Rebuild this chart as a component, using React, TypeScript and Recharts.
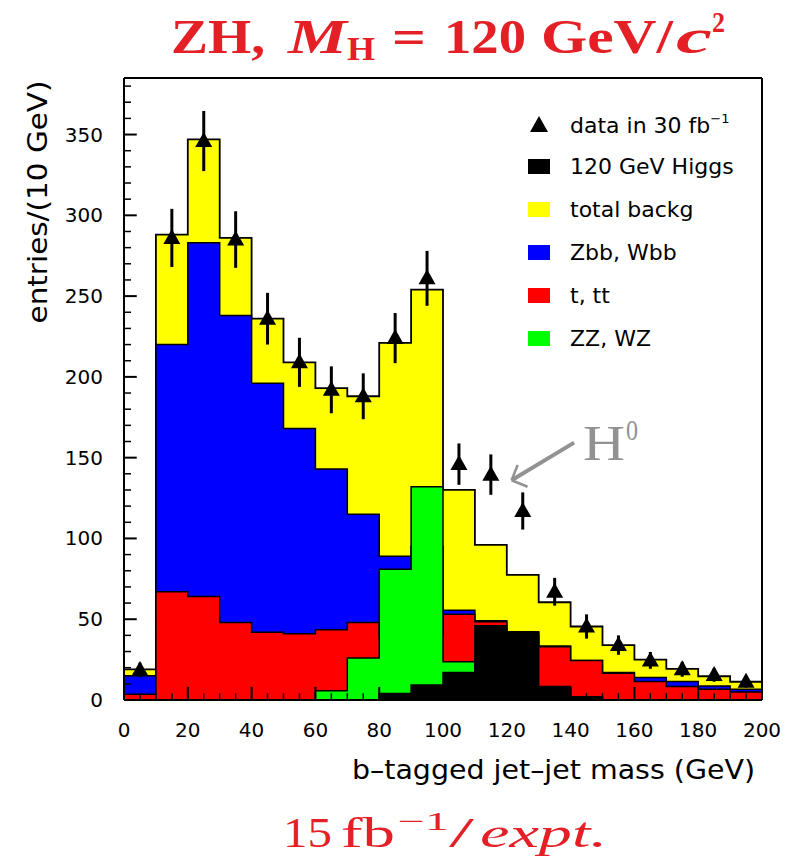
import React from 'react';
import {
  ComposedChart,
  Area,
  Scatter,
  ErrorBar,
  XAxis,
  YAxis,
  ReferenceLine,
  Legend,
  Label,
} from 'recharts';

// ---- data (bins of 10 GeV, lower edges) ----
const binLow = [0, 10, 20, 30, 40, 50, 60, 70, 80, 90, 100, 110, 120, 130, 140, 150, 160, 170, 180, 190];
const binEnd = 200;
const totalBackg = [19, 288, 347, 286, 236, 209, 193, 188, 221, 254, 130, 96, 77.5, 60.5, 45.5, 34, 25, 19.3, 14.7, 11.3];
const zbbWbb = [15, 220, 283, 238, 196, 168, 143, 115, 89, 95, 55.5, 49, 42, 33.5, 24.5, 17, 14, 11.4, 8.7, 6.6];
const tTt = [3.5, 67, 64, 48, 42, 41, 43.5, 48, 40, 40, 53, 48.5, 40, 33, 24.4, 16.5, 11.4, 8.3, 6.6, 5];
const zzWz = [0, 0, 0, 0, 0, 0, 5.8, 26, 81, 132, 23.7, 15, 8, 3, 0, 0, 0, 0, 0, 0];
const higgs120 = [0, 0, 0, 0, 0, 0, 0, 0, 4.1, 9.3, 17, 46, 42.3, 8.3, 2, 0, 0, 0, 0, 0];

const dataMass = [5, 15, 25, 35, 45, 55, 65, 75, 85, 95, 105, 115, 125, 135, 145, 155, 165, 175, 185, 195];
const dataEntries = [18.6, 286, 346, 285, 236, 209, 192, 188, 224, 261, 146, 139.5, 117, 67, 45.5, 34, 24.5, 19, 15.5, 11.3];
const dataErrors = [4.5, 18, 18.6, 17.5, 16, 15.2, 14.5, 14.2, 15.5, 17, 12.8, 12.5, 11.5, 8.6, 7.5, 6, 5.2, 4.6, 4.2, 3.6];

const xTicks = [0, 5, 10, 15, 20, 25, 30, 35, 40, 45, 50, 55, 60, 65, 70, 75, 80, 85, 90, 95, 100,
  105, 110, 115, 120, 125, 130, 135, 140, 145, 150, 155, 160, 165, 170, 175, 180, 185, 190, 195, 200];
const yTicks = [0, 10, 20, 30, 40, 50, 60, 70, 80, 90, 100, 110, 120, 130, 140, 150, 160, 170, 180, 190,
  200, 210, 220, 230, 240, 250, 260, 270, 280, 290, 300, 310, 320, 330, 340, 350, 360, 370, 380];

const legendLabels = ['data in 30 fb', '120 GeV Higgs', 'total backg', 'Zbb, Wbb', 't, tt', 'ZZ, WZ'];
const legendColors = ['#000000', '#000000', '#ffff00', '#0000ff', '#ff0000', '#00ff00'];

const xTitle = 'b–tagged jet–jet mass (GeV)';
const yTitle = 'entries/(10 GeV)';

const X_MAX = 200;
const Y_MAX = 385;

// ---- tables built for the library ----
const rows = binLow.map((x, i) => ({
  x,
  total: totalBackg[i],
  zbb: zbbWbb[i],
  top: tTt[i],
  zz: zzWz[i],
  higgs: higgs120[i],
}));
const last = binLow.length - 1;
rows.push({
  x: binEnd,
  total: totalBackg[last],
  zbb: zbbWbb[last],
  top: tTt[last],
  zz: zzWz[last],
  higgs: higgs120[last],
});

const points = dataMass.map((x, i) => ({ x, y: dataEntries[i], err: dataErrors[i] }));

// inward tick lengths expressed as fractions of the axis ranges
const xTickLen = (v: number) => (v % 20 === 0 ? Y_MAX * 0.021 : Y_MAX * 0.011);
const yTickLen = (v: number) => (v % 50 === 0 ? X_MAX * 0.02 : X_MAX * 0.011);

const TICK_FONT = 'DejaVu Sans, Liberation Sans, sans-serif';
const RED = '#e41f26';
const GRAY = '#929292';

const XTick = (props: any) => {
  const { x, y, payload } = props;
  const v = payload.value;
  if (v % 20 !== 0) return <g />;
  return (
    <text x={x} y={y + 37} textAnchor="middle" fontFamily={TICK_FONT} fontSize={20} fill="#000">
      {v}
    </text>
  );
};

const YTick = (props: any) => {
  const { x, y, payload } = props;
  const v = payload.value;
  if (v % 50 !== 0) return <g />;
  return (
    <text x={x - 21} y={y + 7} textAnchor="end" fontFamily={TICK_FONT} fontSize={20} fill="#000">
      {v}
    </text>
  );
};

const Triangle = (props: any) => {
  const { cx, cy } = props;
  if (cx == null || cy == null) return null;
  return <polygon points={`${cx},${cy - 9} ${cx - 8.5},${cy + 6} ${cx + 8.5},${cy + 6}`} fill="#000" />;
};

const LegendContent = () => (
  <div style={{ fontFamily: TICK_FONT, fontSize: 22, color: '#000', lineHeight: '43px' }}>
    {legendLabels.map((lab, i) => (
      <div key={lab} style={{ display: 'flex', alignItems: 'center', height: 43, whiteSpace: 'nowrap' }}>
        <div style={{ width: 42, display: 'flex', alignItems: 'center' }}>
          {i === 0 ? (
            <svg width={22} height={18}>
              <polygon points="11,1 2,17 20,17" fill="#000" />
            </svg>
          ) : (
            <div style={{ width: 22, height: 15, background: legendColors[i] }} />
          )}
        </div>
        <span>
          {lab}
          {i === 0 && <sup style={{ fontSize: 13, position: 'relative', top: -2 }}>−1</sup>}
        </span>
      </div>
    ))}
  </div>
);

const YTitle = () => (
  <text
    x={47}
    y={202}
    transform="rotate(-90, 47, 202)"
    textAnchor="middle"
    fontFamily={TICK_FONT}
    fontSize={27}
    fill="#000"
    textLength={243}
    lengthAdjust="spacingAndGlyphs"
  >
    {yTitle}
  </text>
);

const XTitle = () => (
  <text
    x={755}
    y={779}
    textAnchor="end"
    fontFamily={TICK_FONT}
    fontSize={27}
    fill="#000"
    textLength={403}
    lengthAdjust="spacingAndGlyphs"
  >
    {xTitle}
  </text>
);

const SERIF = 'Liberation Serif, DejaVu Serif, serif';

export default function App() {
  return (
    <div style={{ position: 'absolute', left: 0, top: 0, width: 802, height: 859, background: '#fff' }}>
      <ComposedChart
        width={802}
        height={859}
        data={rows}
        margin={{ top: 78, right: 40, bottom: 129, left: 64 }}
      >
        <Area type="stepAfter" dataKey="total" fill="#ffff00" fillOpacity={1} stroke="#000" strokeWidth={1.8} dot={false} activeDot={false} isAnimationActive={false} />
        <Area type="stepAfter" dataKey="zbb" fill="#0000ff" fillOpacity={1} stroke="#000" strokeWidth={1.5} dot={false} activeDot={false} isAnimationActive={false} />
        <Area type="stepAfter" dataKey="top" fill="#ff0000" fillOpacity={1} stroke="#000" strokeWidth={1.5} dot={false} activeDot={false} isAnimationActive={false} />
        <Area type="stepAfter" dataKey="zz" fill="#00ff00" fillOpacity={1} stroke="#000" strokeWidth={1.5} dot={false} activeDot={false} isAnimationActive={false} />
        <Area type="stepAfter" dataKey="higgs" fill="#000000" fillOpacity={1} stroke="#000" strokeWidth={1.5} dot={false} activeDot={false} isAnimationActive={false} />
        <Scatter data={points} dataKey="y" shape={<Triangle />} isAnimationActive={false}>
          <ErrorBar dataKey="err" direction="y" width={0} stroke="#000" strokeWidth={3} />
        </Scatter>
        {xTicks.map((v) => (
          <ReferenceLine
            key={`xt${v}`}
            segment={[{ x: v, y: 0 }, { x: v, y: xTickLen(v) }]}
            stroke="#000"
            strokeWidth={v % 20 === 0 ? 2 : 1.5}
          />
        ))}
        {yTicks.map((v) => (
          <ReferenceLine
            key={`yt${v}`}
            segment={[{ x: 0, y: v }, { x: yTickLen(v), y: v }]}
            stroke="#000"
            strokeWidth={v % 50 === 0 ? 2 : 1.5}
          />
        ))}
        <ReferenceLine y={Y_MAX} stroke="#000" strokeWidth={2} />
        <ReferenceLine x={X_MAX} stroke="#000" strokeWidth={2} />
        <ReferenceLine segment={[{ x: 141.1, y: 159.3 }, { x: 121.5, y: 136 }]} stroke={GRAY} strokeWidth={4} />
        <ReferenceLine segment={[{ x: 121.5, y: 136 }, { x: 123.4, y: 145.5 }]} stroke={GRAY} strokeWidth={2.5} />
        <ReferenceLine segment={[{ x: 121.5, y: 136 }, { x: 126.5, y: 132 }]} stroke={GRAY} strokeWidth={2.5} />
        <XAxis
          dataKey="x"
          type="number"
          domain={[0, X_MAX]}
          ticks={xTicks}
          interval={0}
          tickSize={0}
          tickMargin={0}
          tickLine={false}
          tick={<XTick />}
          axisLine={{ stroke: '#000', strokeWidth: 2 }}
          height={30}
        >
          <Label content={<XTitle />} />
        </XAxis>
        <YAxis
          type="number"
          domain={[0, Y_MAX]}
          ticks={yTicks}
          interval={0}
          tickSize={0}
          tickMargin={0}
          tickLine={false}
          tick={<YTick />}
          axisLine={{ stroke: '#000', strokeWidth: 2 }}
          width={60}
        >
          <Label content={<YTitle />} />
        </YAxis>
        <Legend
          layout="vertical"
          align="center"
          verticalAlign="middle"
          content={<LegendContent />}
          wrapperStyle={{ left: 528, top: 102, width: 240, height: 260 }}
        />
      </ComposedChart>

      <svg width={802} height={859} style={{ position: 'absolute', left: 0, top: 0, pointerEvents: 'none' }}>
        {/* title */}
        <g fill={RED} fontFamily={SERIF} fontWeight="bold">
          <text x={171} y={53} fontSize={48} textLength={94} lengthAdjust="spacingAndGlyphs">ZH,</text>
          <text x={288} y={53} fontSize={48} fontStyle="italic" textLength={59} lengthAdjust="spacingAndGlyphs">M</text>
          <text x={347} y={60} fontSize={33} textLength={28} lengthAdjust="spacingAndGlyphs">H</text>
          <text x={392} y={53} fontSize={48} textLength={34} lengthAdjust="spacingAndGlyphs">=</text>
          <text x={444} y={53} fontSize={48} textLength={82} lengthAdjust="spacingAndGlyphs">120</text>
          <text x={541} y={53} fontSize={48} textLength={132} lengthAdjust="spacingAndGlyphs">GeV/</text>
          <text x={676} y={53} fontSize={48} fontStyle="italic" textLength={36} lengthAdjust="spacingAndGlyphs">c</text>
          <text x={712} y={32} fontSize={30} textLength={13} lengthAdjust="spacingAndGlyphs">2</text>
        </g>
        {/* bottom caption */}
        <g fill={RED} fontFamily={SERIF}>
          <text x={283} y={847} fontSize={43} textLength={49} lengthAdjust="spacingAndGlyphs">15</text>
          <text x={341} y={847} fontSize={43} textLength={54} lengthAdjust="spacingAndGlyphs">fb</text>
          <text x={398} y={830} fontSize={26} textLength={51} lengthAdjust="spacingAndGlyphs">−1</text>
          <text x={449} y={847} fontSize={43} textLength={25} lengthAdjust="spacingAndGlyphs">/</text>
          <text x={480} y={847} fontSize={43} fontStyle="italic" textLength={127} lengthAdjust="spacingAndGlyphs">expt.</text>
        </g>
        {/* H0 annotation */}
        <g fill={GRAY} fontFamily={SERIF}>
          <text x={583} y={460} fontSize={50} textLength={42} lengthAdjust="spacingAndGlyphs">H</text>
          <text x={626} y={440} fontSize={29} textLength={12} lengthAdjust="spacingAndGlyphs">0</text>
        </g>
      </svg>
    </div>
  );
}
